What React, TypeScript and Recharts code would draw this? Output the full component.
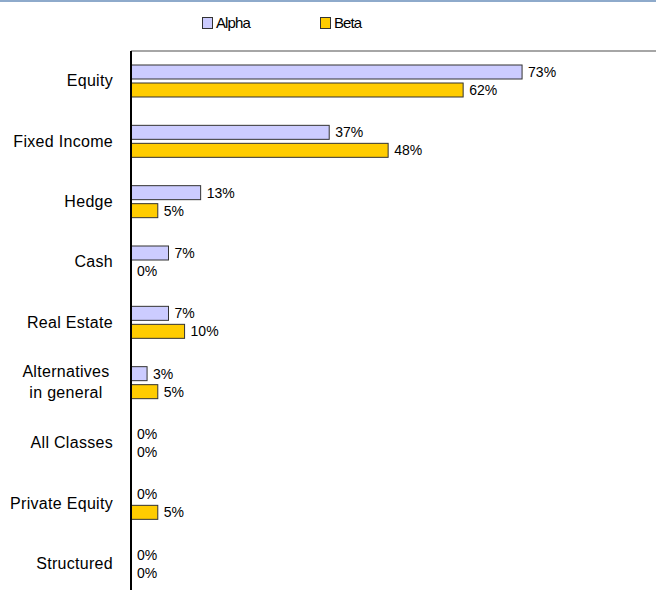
import { BarChart, Bar, XAxis, YAxis } from "recharts";

const categories = [
  "Equity",
  "Fixed Income",
  "Hedge",
  "Cash",
  "Real Estate",
  "Alternatives\nin general",
  "All Classes",
  "Private Equity",
  "Structured",
];
const alphaValues = [73, 37, 13, 7, 7, 3, 0, 0, 0];
const betaValues = [62, 48, 5, 0, 10, 5, 0, 5, 0];

const data = categories.map((name, i) => ({
  name,
  alpha: alphaValues[i],
  beta: betaValues[i],
}));

const FONT = '"Liberation Sans", Arial, sans-serif';

const CategoryTick = (props: any) => {
  const { x, y, payload } = props;
  const lines = String(payload.value).split("\n");
  if (lines.length === 1) {
    return (
      <text
        x={x}
        y={y}
        dy={5}
        textAnchor="end"
        fontSize={16}
        letterSpacing={0.3}
        fill="#000"
        fontFamily={FONT}
      >
        {lines[0]}
      </text>
    );
  }
  // two-line label, lines centred on each other
  return (
    <text
      x={x - 47}
      y={y}
      textAnchor="middle"
      fontSize={16}
      letterSpacing={0.3}
      fill="#000"
      fontFamily={FONT}
    >
      {lines.map((l, i) => (
        <tspan key={i} x={x - 47} y={y - 11 + i * 21 + 5}>
          {l}
        </tspan>
      ))}
    </text>
  );
};

// bar + its value label, so zero values still get a "0%"
const BarWithLabel = (props: any) => {
  const { x, y, width, height, fill, value } = props;
  const v = Array.isArray(value) ? value[1] - value[0] : value;
  const w = Math.max(0, width || 0);
  return (
    <g>
      {w > 0 && (
        <rect x={x} y={y} width={w} height={height} fill={fill} stroke="#333" strokeWidth={1} />
      )}
      <text
        x={x + w + 6}
        y={y + height / 2}
        dy={5}
        fontSize={14}
        fill="#000"
        fontFamily={FONT}
      >
        {`${v}%`}
      </text>
    </g>
  );
};

const legendItems = [
  { label: "Alpha", color: "#ccccff", left: 202 },
  { label: "Beta", color: "#ffcc00", left: 320 },
];

export default function App() {
  return (
    <div
      style={{
        position: "absolute",
        left: 0,
        top: 0,
        width: 656,
        height: 590,
        overflow: "hidden",
        background: "#fff",
        fontFamily: FONT,
      }}
    >
      <div
        style={{
          position: "absolute",
          left: 0,
          top: 0,
          width: 656,
          height: 2,
          background: "#8eaacb",
        }}
      />
      {legendItems.map((item) => (
        <div
          key={item.label}
          style={{
            position: "absolute",
            left: item.left,
            top: 16,
            display: "flex",
            alignItems: "center",
            fontSize: 15,
            letterSpacing: -0.9,
            lineHeight: "13px",
          }}
        >
          <span
            style={{
              width: 9,
              height: 10,
              background: item.color,
              border: "1px solid #333",
              marginRight: 3,
              display: "inline-block",
            }}
          />
          {item.label}
        </div>
      ))}
      <BarChart
        width={656}
        height={600}
        data={data}
        layout="vertical"
        margin={{ top: 50, right: 0, left: 0, bottom: 6 }}
        barSize={14}
        barGap={4}
      >
        <XAxis
          type="number"
          orientation="top"
          domain={[0, 98]}
          height={1}
          tick={false}
          tickLine={false}
          axisLine={{ stroke: "#888", strokeWidth: 1.5 }}
        />
        <YAxis
          type="category"
          dataKey="name"
          width={131}
          tickSize={0}
          tickMargin={18}
          tickLine={false}
          axisLine={{ stroke: "#000", strokeWidth: 2 }}
          tick={<CategoryTick />}
          interval={0}
        />
        <Bar
          dataKey="alpha"
          name="Alpha"
          fill="#ccccff"
          shape={<BarWithLabel />}
          isAnimationActive={false}
        />
        <Bar
          dataKey="beta"
          name="Beta"
          fill="#ffcc00"
          shape={<BarWithLabel />}
          isAnimationActive={false}
        />
      </BarChart>
    </div>
  );
}
